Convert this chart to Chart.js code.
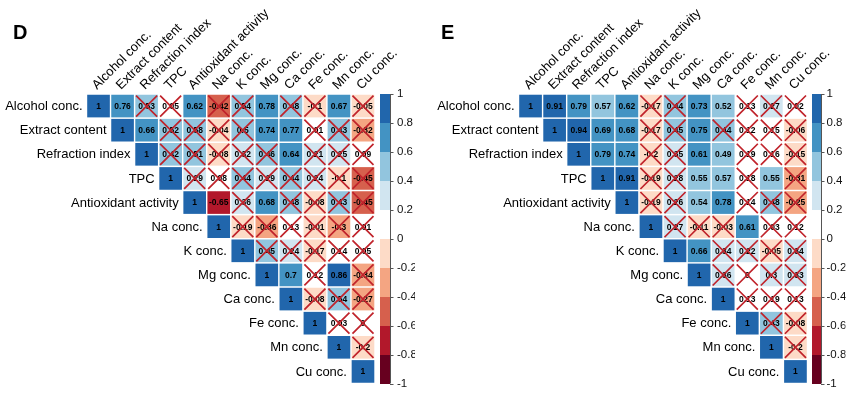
<!DOCTYPE html>
<html><head><meta charset="utf-8">
<script src="https://cdn.jsdelivr.net/npm/chart.js@4.4.1/dist/chart.umd.min.js"></script>
<style>
html,body{margin:0;padding:0;background:#fff;}
#wrap{position:relative;width:850px;height:393px;overflow:hidden;}
.panel{position:absolute;top:0;width:425px;height:393px;}
</style></head><body>
<div id="wrap">
<div class="panel" style="left:0"><canvas id="cD" width="425" height="393"></canvas></div>
<div class="panel" style="left:425px"><canvas id="cE" width="425" height="393"></canvas></div>
</div>
<script>
const categories = ['Alcohol conc.','Extract content','Refraction index','TPC','Antioxidant activity','Na conc.','K conc.','Mg conc.','Ca conc.','Fe conc.','Mn conc.','Cu conc.'];

// upper-triangle rows, each starting at the diagonal
const valuesD = [
  [1, 0.76, 0.53, 0.05, 0.62, -0.42, 0.54, 0.78, 0.48, -0.1, 0.67, -0.05],
  [1, 0.66, 0.52, 0.58, -0.04, 0.5, 0.74, 0.77, 0.01, 0.43, -0.32],
  [1, 0.42, 0.51, -0.08, 0.32, 0.46, 0.64, 0.21, 0.25, 0.09],
  [1, 0.29, 0.08, 0.44, 0.29, 0.44, 0.24, -0.1, -0.45],
  [1, -0.65, 0.36, 0.68, 0.48, -0.08, 0.43, -0.45],
  [1, -0.19, -0.36, 0.13, -0.01, -0.3, 0.01],
  [1, 0.45, 0.24, -0.17, 0.14, 0.05],
  [1, 0.7, 0.12, 0.86, -0.34],
  [1, -0.08, 0.54, -0.27],
  [1, 0.03, 0],
  [1, -0.2],
  [1]
];
const crossedD = [
  [0,0,1,1,0,1,1,0,1,1,0,1],
  [0,0,1,1,1,1,0,0,1,1,1],
  [0,1,1,1,1,1,0,1,1,1],
  [0,1,1,1,1,1,1,1,1],
  [0,0,1,0,1,1,1,1],
  [0,1,1,1,1,1,1],
  [0,1,1,1,1,1],
  [0,0,1,0,1],
  [0,1,1,1],
  [0,1,1],
  [0,1],
  [0]
];
const valuesE = [
  [1, 0.91, 0.79, 0.57, 0.62, -0.17, 0.44, 0.73, 0.52, 0.13, 0.27, 0.02],
  [1, 0.94, 0.69, 0.68, -0.17, 0.45, 0.75, 0.44, 0.12, 0.15, -0.06],
  [1, 0.79, 0.74, -0.2, 0.35, 0.61, 0.49, 0.19, 0.16, -0.15],
  [1, 0.91, -0.19, 0.28, 0.55, 0.57, 0.18, 0.55, -0.31],
  [1, -0.19, 0.26, 0.54, 0.78, 0.14, 0.48, -0.25],
  [1, 0.27, -0.11, -0.03, 0.61, 0.03, 0.12],
  [1, 0.66, 0.34, 0.22, -0.05, 0.34],
  [1, 0.36, 0, 0.3, 0.33],
  [1, 0.13, 0.19, 0.13],
  [1, 0.43, -0.08],
  [1, -0.2],
  [1]
];
const crossedE = [
  [0,0,0,0,0,1,1,0,0,1,1,1],
  [0,0,0,0,1,1,0,1,1,1,1],
  [0,0,0,1,1,0,0,1,1,1],
  [0,0,1,1,0,0,1,0,1],
  [0,1,1,0,0,1,1,1],
  [0,1,1,1,0,1,1],
  [0,0,1,1,1,1],
  [0,1,1,1,1],
  [0,1,1,1],
  [0,1,1],
  [0,1],
  [0]
];
const legendTicks = [1, 0.8, 0.6, 0.4, 0.2, 0, -0.2, -0.4, -0.6, -0.8, -1];
const binEdges = [-1, -0.8, -0.6, -0.4, -0.2, 0, 0.2, 0.4, 0.6, 0.8, 1];
const binColors = ['#67001F','#B2182B','#D6604D','#F4A582','#FDDBC7','#FFFFFF','#D1E5F0','#92C5DE','#4393C3','#2166AC'];

const FONT = '"Liberation Sans", Arial, Helvetica, sans-serif';

function colorFor(v){
  let k = Math.floor((v + 1) / 0.2 + 1e-9);
  if (k > 9) k = 9; if (k < 0) k = 0;
  return binColors[k];
}
function cellSize(chart){
  const s = chart.scales.x;
  return Math.abs(s.getPixelForValue(1) - s.getPixelForValue(0));
}
function buildPoints(values){
  const pts = [];
  values.forEach((row, i) => row.forEach((v, k) => pts.push({x: i + k, y: i, v: v})));
  return pts;
}
function buildCrosses(values, crossed){
  const pts = [];
  values.forEach((row, i) => row.forEach((v, k) => { if (crossed[i][k]) pts.push({x: i + k, y: i, v: v}); }));
  return pts;
}

const decorPlugin = {
  id: 'decor',
  afterDatasetDraw(chart, args){
    if (args.index !== 0) return;
    const ctx = chart.ctx, xs = chart.scales.x, ys = chart.scales.y;
    ctx.save();
    ctx.font = 'bold 8.5px ' + FONT;
    ctx.fillStyle = '#000';
    ctx.textAlign = 'center';
    ctx.textBaseline = 'middle';
    chart.data.datasets[0].data.forEach(p => {
      ctx.fillText(String(p.v), xs.getPixelForValue(p.x), ys.getPixelForValue(p.y) + 0.5);
    });
    ctx.restore();
  },
  afterDraw(chart, args, opts){
    const ctx = chart.ctx, xs = chart.scales.x, ys = chart.scales.y, cb = chart.scales.cb;
    const cell = cellSize(chart);
    const top = chart.chartArea.top;
    ctx.save();
    // row labels (staggered along diagonal)
    ctx.font = '13px ' + FONT;
    ctx.fillStyle = '#000';
    ctx.textAlign = 'right';
    ctx.textBaseline = 'middle';
    categories.forEach((c, i) => {
      ctx.fillText(c, xs.getPixelForValue(i) - cell / 2 - 4, ys.getPixelForValue(i) + 0.5);
    });
    // column labels rotated 45 degrees
    ctx.textAlign = 'left';
    ctx.textBaseline = 'alphabetic';
    categories.forEach((c, i) => {
      ctx.save();
      ctx.translate(xs.getPixelForValue(i) - 1.5, top - 4);
      ctx.rotate(-Math.PI / 4);
      ctx.fillText(c, 0, 0);
      ctx.restore();
    });
    // colour bar
    const x0 = cb.left + opts.barGap, w = opts.barWidth;
    for (let k = 0; k < binColors.length; k++){
      const y1 = cb.getPixelForValue(binEdges[k + 1]);
      const y2 = cb.getPixelForValue(binEdges[k]);
      ctx.fillStyle = binColors[k];
      ctx.fillRect(x0, Math.round(y1), w, Math.round(y2) - Math.round(y1));
    }
    ctx.strokeStyle = '#555';
    ctx.lineWidth = 1;
    ctx.beginPath();
    ctx.moveTo(x0 + w + 0.5, cb.getPixelForValue(1));
    ctx.lineTo(x0 + w + 0.5, cb.getPixelForValue(-1));
    legendTicks.forEach(t => {
      const y = Math.round(cb.getPixelForValue(t)) + 0.5;
      ctx.moveTo(x0 + w, y);
      ctx.lineTo(x0 + w + 3.5, y);
    });
    ctx.stroke();
    // panel letter
    ctx.font = 'bold 20px ' + FONT;
    ctx.fillStyle = '#000';
    ctx.textAlign = 'left';
    ctx.fillText(opts.letter, opts.letterX, 39);
    ctx.restore();
  }
};

function makeChart(id, values, crossed, cfg){
  new Chart(document.getElementById(id), {
    type: 'scatter',
    data: {
      datasets: [
        {
          data: buildPoints(values),
          order: 2,
          clip: false,
          pointStyle: 'rect',
          pointRadius: c => (cellSize(c.chart) - 1.4) / Math.SQRT2,
          pointBackgroundColor: c => colorFor(c.raw.v),
          pointBorderWidth: 0
        },
        {
          data: buildCrosses(values, crossed),
          order: 1,
          clip: false,
          pointStyle: 'crossRot',
          pointRadius: c => (cellSize(c.chart) / 2 - 1.5) / Math.SQRT1_2,
          pointBorderColor: '#C0232B',
          pointBackgroundColor: '#C0232B',
          pointBorderWidth: 1.7
        }
      ]
    },
    options: {
      responsive: false,
      animation: false,
      events: [],
      layout: {padding: {left: cfg.padLeft, right: cfg.padRight, top: 94, bottom: 9.5}},
      plugins: {
        legend: {display: false},
        tooltip: {enabled: false},
        decor: {letter: cfg.letter, letterX: cfg.letterX, barGap: cfg.barGap, barWidth: cfg.barWidth}
      },
      scales: {
        x: {type: 'linear', min: -0.5, max: 11.5, display: false},
        y: {type: 'linear', min: -0.5, max: 11.5, reverse: true, display: false},
        cb: {
          type: 'linear', axis: 'y', position: 'right', min: -1, max: 1,
          afterBuildTicks: a => { a.ticks = legendTicks.map(v => ({value: v})); },
          afterFit: a => { a.width = cfg.axisWidth; },
          grid: {display: true, drawOnChartArea: false, color: 'rgba(0,0,0,0)', tickLength: cfg.tickLength},
          border: {display: false},
          ticks: {
            padding: 2,
            color: '#111',
            font: {family: FONT, size: 11.5},
            callback: v => String(Math.round(v * 10) / 10)
          }
        }
      }
    },
    plugins: [decorPlugin]
  });
}

makeChart('cD', valuesD, crossedD, {letter: 'D', letterX: 13, padLeft: 86.5, padRight: 10, axisWidth: 40, tickLength: 20, barGap: 5, barWidth: 10});
makeChart('cE', valuesE, crossedE, {letter: 'E', letterX: 16, padLeft: 93.5, padRight: 4.5, axisWidth: 38, tickLength: 17, barGap: 4.5, barWidth: 9});
</script>
</body></html>
